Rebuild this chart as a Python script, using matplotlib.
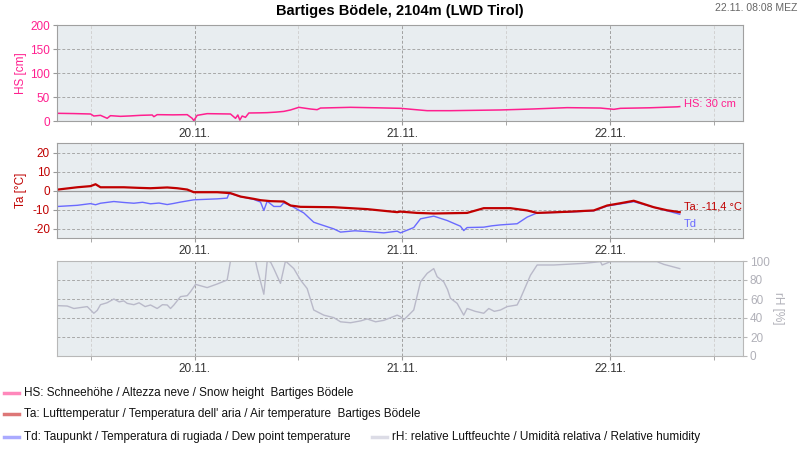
import matplotlib
matplotlib.use('Agg')
import matplotlib.pyplot as plt
from matplotlib.lines import Line2D

plt.rcParams['font.family'] = ['Liberation Sans', 'DejaVu Sans']
plt.rcParams['axes.unicode_minus'] = False

# time in hours since 19.11. 00:00
hs_t = [8.23, 10.0, 12.0, 12.38, 13.15, 13.92, 14.3, 15.46, 16.5, 17.77, 19.12, 19.31, 19.69, 21.5,
        23.16, 23.73, 23.92, 24.31, 25.46, 27.0, 28.15, 28.73, 29.0, 29.23, 29.5, 29.88, 30.27,
        31.5, 32.39, 33.4, 34.3, 35.08, 36.04, 37.38, 38.15, 38.54, 42.0, 45.0, 47.77, 50.85,
        53.54, 59.31, 63.0, 67.0, 70.85, 72.39, 73.15, 76.5, 79.7, 80.0]
hs_v = [16, 15.5, 14.6, 10.4, 11.8, 5.6, 11.1, 9.7, 10.5, 11.8, 12.5, 9, 13.2, 12.8,
        13.2, 5.6, 0.7, 11.8, 15.3, 14.9, 14.6, 5.6, 12.5, 2, 10.4, 7.6, 16.7,
        17.0, 17.4, 18.5, 20, 23, 28.5, 25, 23.6, 27, 28.5, 27.5, 26.4, 21.5,
        21.5, 23, 25, 27.8, 27, 24.3, 26.4, 27.5, 29.5, 30]

ta_t = [8.23, 10.46, 12.0, 12.58, 13.15, 15.84, 17.5, 18.92, 20.85, 22.0, 23.16, 23.92, 26.62,
        28.15, 29.31, 30.84, 31.62, 32.77, 34.3, 35.08, 36.23, 40.07, 43.92, 47.39, 47.77, 49.69,
        51.61, 55.46, 57.38, 60.46, 62.39, 63.54, 67.0, 70.07, 71.62, 73.15, 74.69, 77.0, 78.54,
        80.0]
ta_v = [0.5, 1.7, 2.3, 3.3, 1.7, 1.7, 1.4, 1.2, 1.6, 1.2, 0.5, -0.9, -0.9,
        -1.4, -3.2, -4.4, -5.1, -5.6, -5.8, -7.9, -8.6, -8.8, -9.8, -11.4, -11.1, -11.8,
        -12.1, -11.8, -9.3, -9.3, -10.5, -11.8, -11.2, -10.5, -7.9, -6.7, -5.4, -8.8, -10.4,
        -11.4]

td_t = [8.23, 10.46, 12.0, 12.58, 13.15, 14.69, 15.84, 17.0, 18.0, 18.92, 19.9, 20.85, 21.6,
        22.38, 23.92, 26.62, 27.77, 27.96, 28.15, 29.31, 30.84, 31.62, 32.0, 32.39, 33.15, 33.92,
        34.3, 35.08, 36.61, 37.76, 38.54, 40.07, 40.85, 42.5, 43.92, 45.84, 47.39, 47.77, 49.3,
        50.08, 51.61, 53.16, 54.69, 55.07, 55.46, 57.38, 58.3, 59.31, 61.23, 62.39, 63.54, 67.0,
        70.07, 71.62, 74.69, 77.0, 80.0]
td_v = [-8.4, -7.8, -6.9, -7.5, -6.7, -5.8, -6.3, -6.7, -6.2, -7.0, -6.6, -7.4, -6.8,
        -6.1, -4.9, -4.4, -4.0, -1.8, -1.6, -3.2, -4.7, -6.1, -10.5, -5.6, -8.4, -8.4,
        -6.5, -7.9, -11.8, -16.7, -17.9, -20.2, -21.9, -21.2, -21.6, -22.3, -21.4, -22.3, -19.5,
        -14.9, -13.5, -15.8, -18.8, -21.1, -19.5, -19.3, -18.6, -18.1, -17.5, -14.0, -11.8, -11.4,
        -10.7, -8.2, -5.9, -8.8, -12.5]

rh_t = [8.23, 9.31, 10.08, 11.62, 12.38, 12.77, 13.15, 13.9, 14.69, 15.3, 15.84, 16.23, 17.0,
        17.6, 18.3, 18.92, 19.69, 20.3, 20.85, 21.23, 21.62, 22.38, 23.16, 23.54, 24.12, 25.46,
        26.62, 27.77, 28.15, 31.04, 31.23, 32.0, 32.39, 32.77, 33.15, 33.92, 34.3, 34.5, 35.46,
        36.23, 37.0, 37.76, 38.92, 40.07, 40.85, 42.0, 43.2, 43.92, 44.9, 45.84, 47.39, 47.77,
        48.15, 49.3, 50.08, 50.85, 51.61, 52.0, 52.77, 53.2, 53.54, 54.31, 55.07, 55.46, 56.4,
        57.38, 57.96, 58.6, 59.31, 60.08, 61.23, 61.62, 62.77, 63.54, 65.46, 68.92, 70.85, 71.04,
        72.0, 77.38, 78.15, 80.0]
rh_v = [53, 52.6, 50, 52, 45, 48, 54, 56, 60, 57, 58, 55.4, 54,
        56, 52, 53.7, 50, 54, 53.7, 50, 53.7, 62.5, 63.5, 67.7, 75.4, 72,
        75.8, 80, 100, 100, 92, 65, 100, 99, 92, 76.5, 92, 100, 92,
        80, 71, 48.4, 43, 40.4, 36, 35, 37, 39, 36, 37.5, 43, 41.4,
        38, 48.4, 78, 87, 92, 83.5, 78, 70, 60.7, 55.4, 43, 50, 47,
        45, 50, 47, 48.4, 52, 53.7, 60.7, 85, 95.8, 95.8, 97.5, 99.3, 95.8,
        99.3, 99.3, 96.5, 92]

day_ticks = [24, 48, 72]
day_labels = ['20.11.', '21.11.', '22.11.']
noon_ticks = [12, 36, 60, 84]
x_min, x_max = 8.13, 87.3

c_hs = '#ff1f8f'
c_ta = '#c00000'
c_td = '#6a6aff'
c_rh = '#b9b9c9'
bg = '#e8edf0'

fig = plt.figure(figsize=(8, 4.5), dpi=100)
W, H = 800, 450

def add_panel(top, bottom):
    return fig.add_axes([57 / W, 1 - bottom / H, 686 / W, (bottom - top) / H])

def style(ax, frame='#a0a0a0'):
    ax.set_facecolor(bg)
    ax.set_xlim(x_min, x_max)
    ax.set_xticks(day_ticks)
    ax.set_xticklabels(day_labels)
    ax.set_xticks(noon_ticks, minor=True)
    ax.tick_params(axis='x', which='both', length=3, color='#999999', labelsize=8.5,
                   labelcolor='#333333', pad=2)
    for s in ax.spines.values():
        s.set_color(frame)
    ax.grid(True, axis='y', which='major', color='#a8a8a8', linestyle=(0, (3, 2)), linewidth=0.7)
    ax.grid(True, axis='x', which='major', color='#a0a0a0', linestyle=(0, (3, 2)), linewidth=0.7)
    ax.grid(True, axis='x', which='minor', color='#d2d2d2', linestyle=(0, (3, 2)), linewidth=0.7)
    ax.set_axisbelow(True)

# snow height
ax1 = add_panel(25, 121)
style(ax1)
ax1.set_ylim(0, 200)
ax1.set_yticks([0, 50, 100, 150, 200])
ax1.tick_params(axis='y', length=3, color='#999999', labelsize=8.5, labelcolor=c_hs, pad=2)
ax1.plot(hs_t, hs_v, color=c_hs, lw=1.1)
ax1.yaxis.set_label_coords(-0.044, 0.5)
ax1.set_ylabel('HS [cm]', color=c_hs, fontsize=8.5)
ax1.annotate('HS: 30 cm', (hs_t[-1], hs_v[-1]), xytext=(3, 2), textcoords='offset points',
             color=c_hs, fontsize=8, va='center')

# temperatures
ax2 = add_panel(143, 238)
style(ax2)
ax2.set_ylim(-25, 25)
ax2.set_yticks([-20, -10, 0, 10, 20])
ax2.tick_params(axis='y', length=3, color='#999999', labelsize=8.5, labelcolor=c_ta, pad=2)
ax2.axhline(0, color='#999999', lw=0.9, zorder=1)
ax2.plot(td_t, td_v, color=c_td, lw=1.0)
ax2.plot(ta_t, ta_v, color=c_ta, lw=1.6)
ax2.yaxis.set_label_coords(-0.044, 0.5)
ax2.set_ylabel('Ta [°C]', color=c_ta, fontsize=8.5)
ax2.annotate('Ta: -11,4 °C', (ta_t[-1], ta_v[-1]), xytext=(3, 4), textcoords='offset points',
             color=c_ta, fontsize=8, va='center')
ax2.annotate('Td', (td_t[-1], td_v[-1]), xytext=(3, -7), textcoords='offset points',
             color=c_td, fontsize=8, va='center')

# relative humidity
ax3 = add_panel(261, 356)
style(ax3, frame='#b8b8b8')
ax3.set_ylim(0, 100)
ax3.set_yticks([0, 20, 40, 60, 80, 100])
ax3.yaxis.tick_right()
ax3.yaxis.set_label_position('right')
ax3.tick_params(axis='y', length=3, color='#b8b8b8', labelsize=8.5, labelcolor='#b0b0b8', pad=2)
ax3.plot(rh_t, rh_v, color=c_rh, lw=1.0)
ax3.set_ylabel('rH [%]', color='#b0b0b8', fontsize=8.5, rotation=270, labelpad=10)

fig.text(400 / W, 1 - 11 / H, 'Bartiges Bödele, 2104m (LWD Tirol)', ha='center', va='center',
         fontsize=10.5, fontweight='bold')
fig.text(797 / W, 1 - 8 / H, '22.11. 08:08 MEZ', ha='right', va='center', fontsize=7.5,
         color='#666666')

# legend
legend_items = [
    (4, 393, '#ff88bb', 'HS: Schneehöhe / Altezza neve / Snow height  Bartiges Bödele'),
    (4, 414, '#dd7777', "Ta: Lufttemperatur / Temperatura dell' aria / Air temperature  Bartiges Bödele"),
    (4, 437, '#aaaaff', 'Td: Taupunkt / Temperatura di rugiada / Dew point temperature'),
    (372, 437, '#dcdce6', 'rH: relative Luftfeuchte / Umidità relativa / Relative humidity'),
]
for x0, y0, col, label in legend_items:
    fig.add_artist(Line2D([x0 / W, (x0 + 15) / W], [1 - y0 / H, 1 - y0 / H], color=col, lw=2.5,
                          transform=fig.transFigure))
    fig.text((x0 + 20) / W, 1 - y0 / H, label, ha='left', va='center', fontsize=8.5, color='#111111')

fig.savefig('out.png', dpi=100)
